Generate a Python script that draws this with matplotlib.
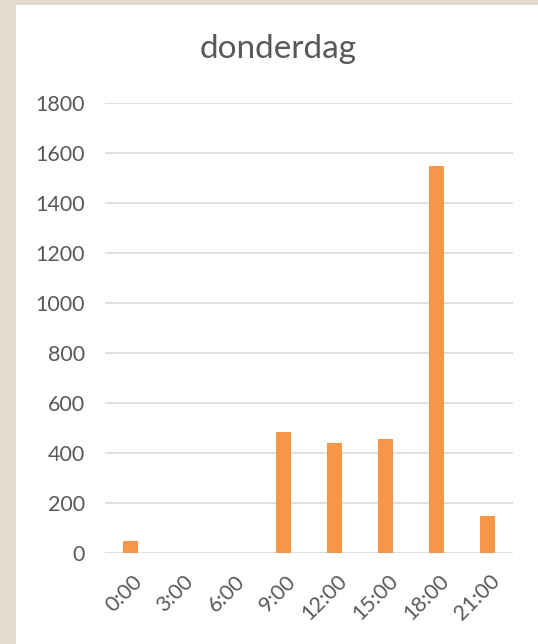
import matplotlib
matplotlib.use("Agg")
import matplotlib.pyplot as plt
import matplotlib.transforms as mtransforms
from matplotlib.patches import Rectangle

# data
hours = ["0:00", "3:00", "6:00", "9:00", "12:00", "15:00", "18:00", "21:00"]
counts = [50, 0, 0, 485, 440, 455, 1550, 150]
y_ticks = [0, 200, 400, 600, 800, 1000, 1200, 1400, 1600, 1800]

W, H = 538, 644
fig = plt.figure(figsize=(W / 100, H / 100), dpi=100)
fig.patch.set_facecolor("#e2dbd0")
# white chart panel on the textured background
fig.patches.append(Rectangle((16 / W, 0), 1 - 16 / W, 1 - 5 / H,
                             transform=fig.transFigure, facecolor="white",
                             edgecolor="none", zorder=-5))

plt.rcParams["font.family"] = ["Lato", "DejaVu Sans"]
text_col = "#595959"

ax = fig.add_axes([105 / W, 1 - 553 / H, (513 - 105) / W, (553 - 103) / H])
ax.set_facecolor("none")
x = range(len(hours))
ax.bar(x, counts, width=0.31, color="#f79646", zorder=3)

ax.set_xlim(-0.5, len(hours) - 0.5)
ax.set_ylim(0, 1800)
ax.set_yticks(y_ticks)
ax.set_xticks(list(x))
ax.set_xticklabels(hours, rotation=45, ha="right", rotation_mode="anchor")
ax.yaxis.grid(True, color="#d9d9d9", linewidth=1.2, zorder=0)
ax.tick_params(axis="both", length=0, labelsize=15.5, colors=text_col)
ax.tick_params(axis="y", pad=14.5)
ax.tick_params(axis="x", pad=13)
shift = mtransforms.ScaledTranslation(2 / 100, 0, fig.dpi_scale_trans)
for lbl in ax.get_xticklabels():
    lbl.set_transform(lbl.get_transform() + shift)
for s in ax.spines.values():
    s.set_visible(False)

fig.text(278 / W, 1 - 49 / H, "donderdag", ha="center", va="center",
         fontsize=24, color=text_col)

fig.savefig("out.png", dpi=100, facecolor=fig.get_facecolor())
